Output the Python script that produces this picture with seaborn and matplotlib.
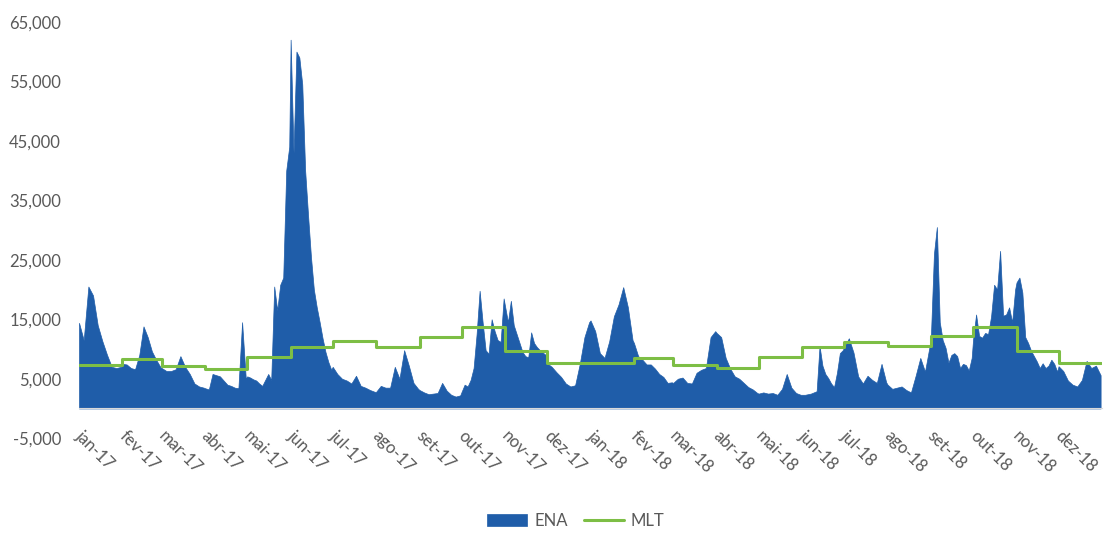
import numpy as np
import pandas as pd
import matplotlib
matplotlib.use('Agg')
import matplotlib.pyplot as plt
import matplotlib.transforms as mtransforms
from matplotlib.ticker import FuncFormatter
import seaborn as sns

# ENA, values read per month (evenly spread over each month)
ena_jan17 = [14400, 11500, 20500, 19000, 14000, 11300, 9000, 7000, 6800, 7000]
ena_fev17 = [7500, 7400, 6800, 6600, 9000, 13800, 12000, 9600, 8200, 7000]
ena_mar17 = [6800, 6300, 6300, 6600, 8800, 7000, 5800, 4200, 3700, 3500]
ena_abr17 = [3400, 3200, 5800, 5600, 5400, 4700, 4000, 3800, 3500, 3400, 14500, 5000]
ena_mai17 = [5400, 5200, 4900, 4700, 4200, 3800, 4800, 5800, 4800, 20500, 16500, 20800, 22000, 40000, 44000]
ena_jun17 = [62000, 43000, 60000, 59000, 54500, 40000, 32500, 25500, 20000, 17000, 14500, 11800, 9500, 7800, 6500]
ena_jul17 = [7000, 5800, 5000, 4700, 4200, 5500, 3800, 3500, 3100, 2800]
ena_ago17 = [2800, 3800, 3500, 3500, 7000, 5000, 9800, 7200, 4300, 3300]
ena_set17 = [3100, 2700, 2400, 2500, 2600, 4300, 3000, 2300, 2000, 2200]
ena_out17 = [2800, 4000, 3700, 4800, 6800, 12500, 19800, 14500, 9800, 9200, 15000, 13000, 11500, 11200, 18500]
ena_nov17 = [17200, 14500, 18100, 14000, 12500, 11000, 9500, 8800, 8600, 12800, 11000, 10300, 9800, 9400, 9000]
ena_dez17 = [7600, 7000, 6100, 5300, 4200, 3700, 3900, 7500, 12000, 14500]
ena_jan18 = [14800, 13000, 9300, 8500, 11300, 15500, 17500, 20400, 17000, 11500]
ena_fev18 = [11000, 8800, 8200, 7400, 7400, 6700, 5800, 5300, 4300, 4400]
ena_mar18 = [4300, 5000, 5200, 4300, 4200, 6000, 6500, 6800, 12000, 13000]
ena_abr18 = [12700, 12000, 8500, 6700, 5400, 5000, 4300, 3600, 3200, 2600]
ena_mai18 = [2500, 2700, 2500, 2600, 2300, 3300, 5800, 3500, 2600, 2300]
ena_jun18 = [2300, 2300, 2400, 2500, 2700, 2900, 10500, 7200, 5800, 5100, 4200, 3600, 6000, 9300, 9800]
ena_jul18 = [10300, 11800, 9400, 5400, 4200, 5500, 4800, 4300, 7500, 4400]
ena_ago18 = [4000, 3300, 3500, 3700, 3100, 2700, 5500, 8500, 6200, 10500]
ena_set18 = [12700, 26000, 30500, 14500, 11500, 10200, 7700, 9000, 9300, 8800, 6800, 7500, 7300, 6400, 8500]
ena_out18 = [11600, 15800, 12200, 11900, 12700, 12500, 15500, 20800, 20000, 26500, 15600, 15800, 17000, 14500, 20000]
ena_nov18 = [21200, 22000, 19500, 12000, 11000, 9700, 8800, 7900, 6800, 7600, 6800, 7200, 8200, 7500, 6200]
ena_dez18 = [7100, 6300, 4700, 4000, 3700, 4800, 8000, 6800, 7200, 5600]

ena_by_month = [ena_jan17, ena_fev17, ena_mar17, ena_abr17, ena_mai17, ena_jun17,
                ena_jul17, ena_ago17, ena_set17, ena_out17, ena_nov17, ena_dez17,
                ena_jan18, ena_fev18, ena_mar18, ena_abr18, ena_mai18, ena_jun18,
                ena_jul18, ena_ago18, ena_set18, ena_out18, ena_nov18, ena_dez18]

# MLT, one value per month
mlt = [7300, 8300, 7100, 6600, 8600, 10300, 11300, 10300, 12100, 13700, 9600, 7600,
       7700, 8500, 7300, 6750, 8600, 10300, 11200, 10500, 12200, 13700, 9600, 7700]

month_labels = ['jan-17', 'fev-17', 'mar-17', 'abr-17', 'mai-17', 'jun-17',
                'jul-17', 'ago-17', 'set-17', 'out-17', 'nov-17', 'dez-17',
                'jan-18', 'fev-18', 'mar-18', 'abr-18', 'mai-18', 'jun-18',
                'jul-18', 'ago-18', 'set-18', 'out-18', 'nov-18', 'dez-18']

months = pd.date_range('2017-01-01', '2018-12-01', freq='MS')
end = pd.Timestamp('2019-01-01')

# build daily-ish frame
rows = []
for start, vals in zip(months, ena_by_month):
    days = start.days_in_month
    offs = np.linspace(0, days - 1, len(vals))
    for o, v in zip(offs, vals):
        rows.append((start + pd.Timedelta(days=float(o)), v))
ena_df = pd.DataFrame(rows, columns=['date', 'ENA'])

mlt_df = pd.DataFrame({'date': list(months) + [end - pd.Timedelta(days=1)],
                       'MLT': mlt + [mlt[-1]]})

blue = '#1F5DA9'
green = '#7DBE45'
grey = '#595959'

sns.set_style('white')
plt.rcParams['font.family'] = ['Lato', 'DejaVu Sans']

fig = plt.figure(figsize=(11.1, 5.41), dpi=100)
ax = fig.add_axes([0.0712, 0.19, 0.9216, 0.7696])

ax.fill_between(ena_df['date'], ena_df['ENA'], color=blue, lw=0.5, edgecolor=blue, label='ENA')
sns.lineplot(data=mlt_df, x='date', y='MLT', drawstyle='steps-post', color=green,
             lw=2.2, ax=ax, label='MLT')

# spines first (set_position resets the ticks)
for s in ['top', 'right', 'left']:
    ax.spines[s].set_visible(False)
ax.spines['bottom'].set_position(('data', 0))
ax.spines['bottom'].set_color('#D9D9D9')
ax.set_xlabel('')
ax.set_ylabel('')

ax.set_xlim(months[0], end)
ax.set_ylim(-5000, 65000)
ax.set_yticks(np.arange(-5000, 65001, 10000))
ax.yaxis.set_major_formatter(FuncFormatter(lambda v, p: f'{v:,.0f}'))
ax.tick_params(axis='y', length=0, pad=13, labelsize=12, labelcolor=grey)

ax.set_xticks(list(months) + [end])
ax.tick_params(axis='x', length=5, width=1, color='#D9D9D9', pad=9)
ax.set_xticklabels(month_labels + [''], rotation=-45, ha='left', va='top',
                   rotation_mode='anchor', fontsize=12, color=grey)
shift = mtransforms.ScaledTranslation(0.05, 0, fig.dpi_scale_trans)
for lbl in ax.get_xticklabels():
    lbl.set_transform(lbl.get_transform() + shift)

handles, labels = ax.get_legend_handles_labels()
ax.get_legend().remove()
fig.legend(handles, labels, loc='lower center', bbox_to_anchor=(0.519, -0.005), ncol=2,
           frameon=False, fontsize=12, handlelength=2.4, handletextpad=0.4,
           columnspacing=1.0, labelcolor=grey)

fig.savefig('out.png', dpi=100)
